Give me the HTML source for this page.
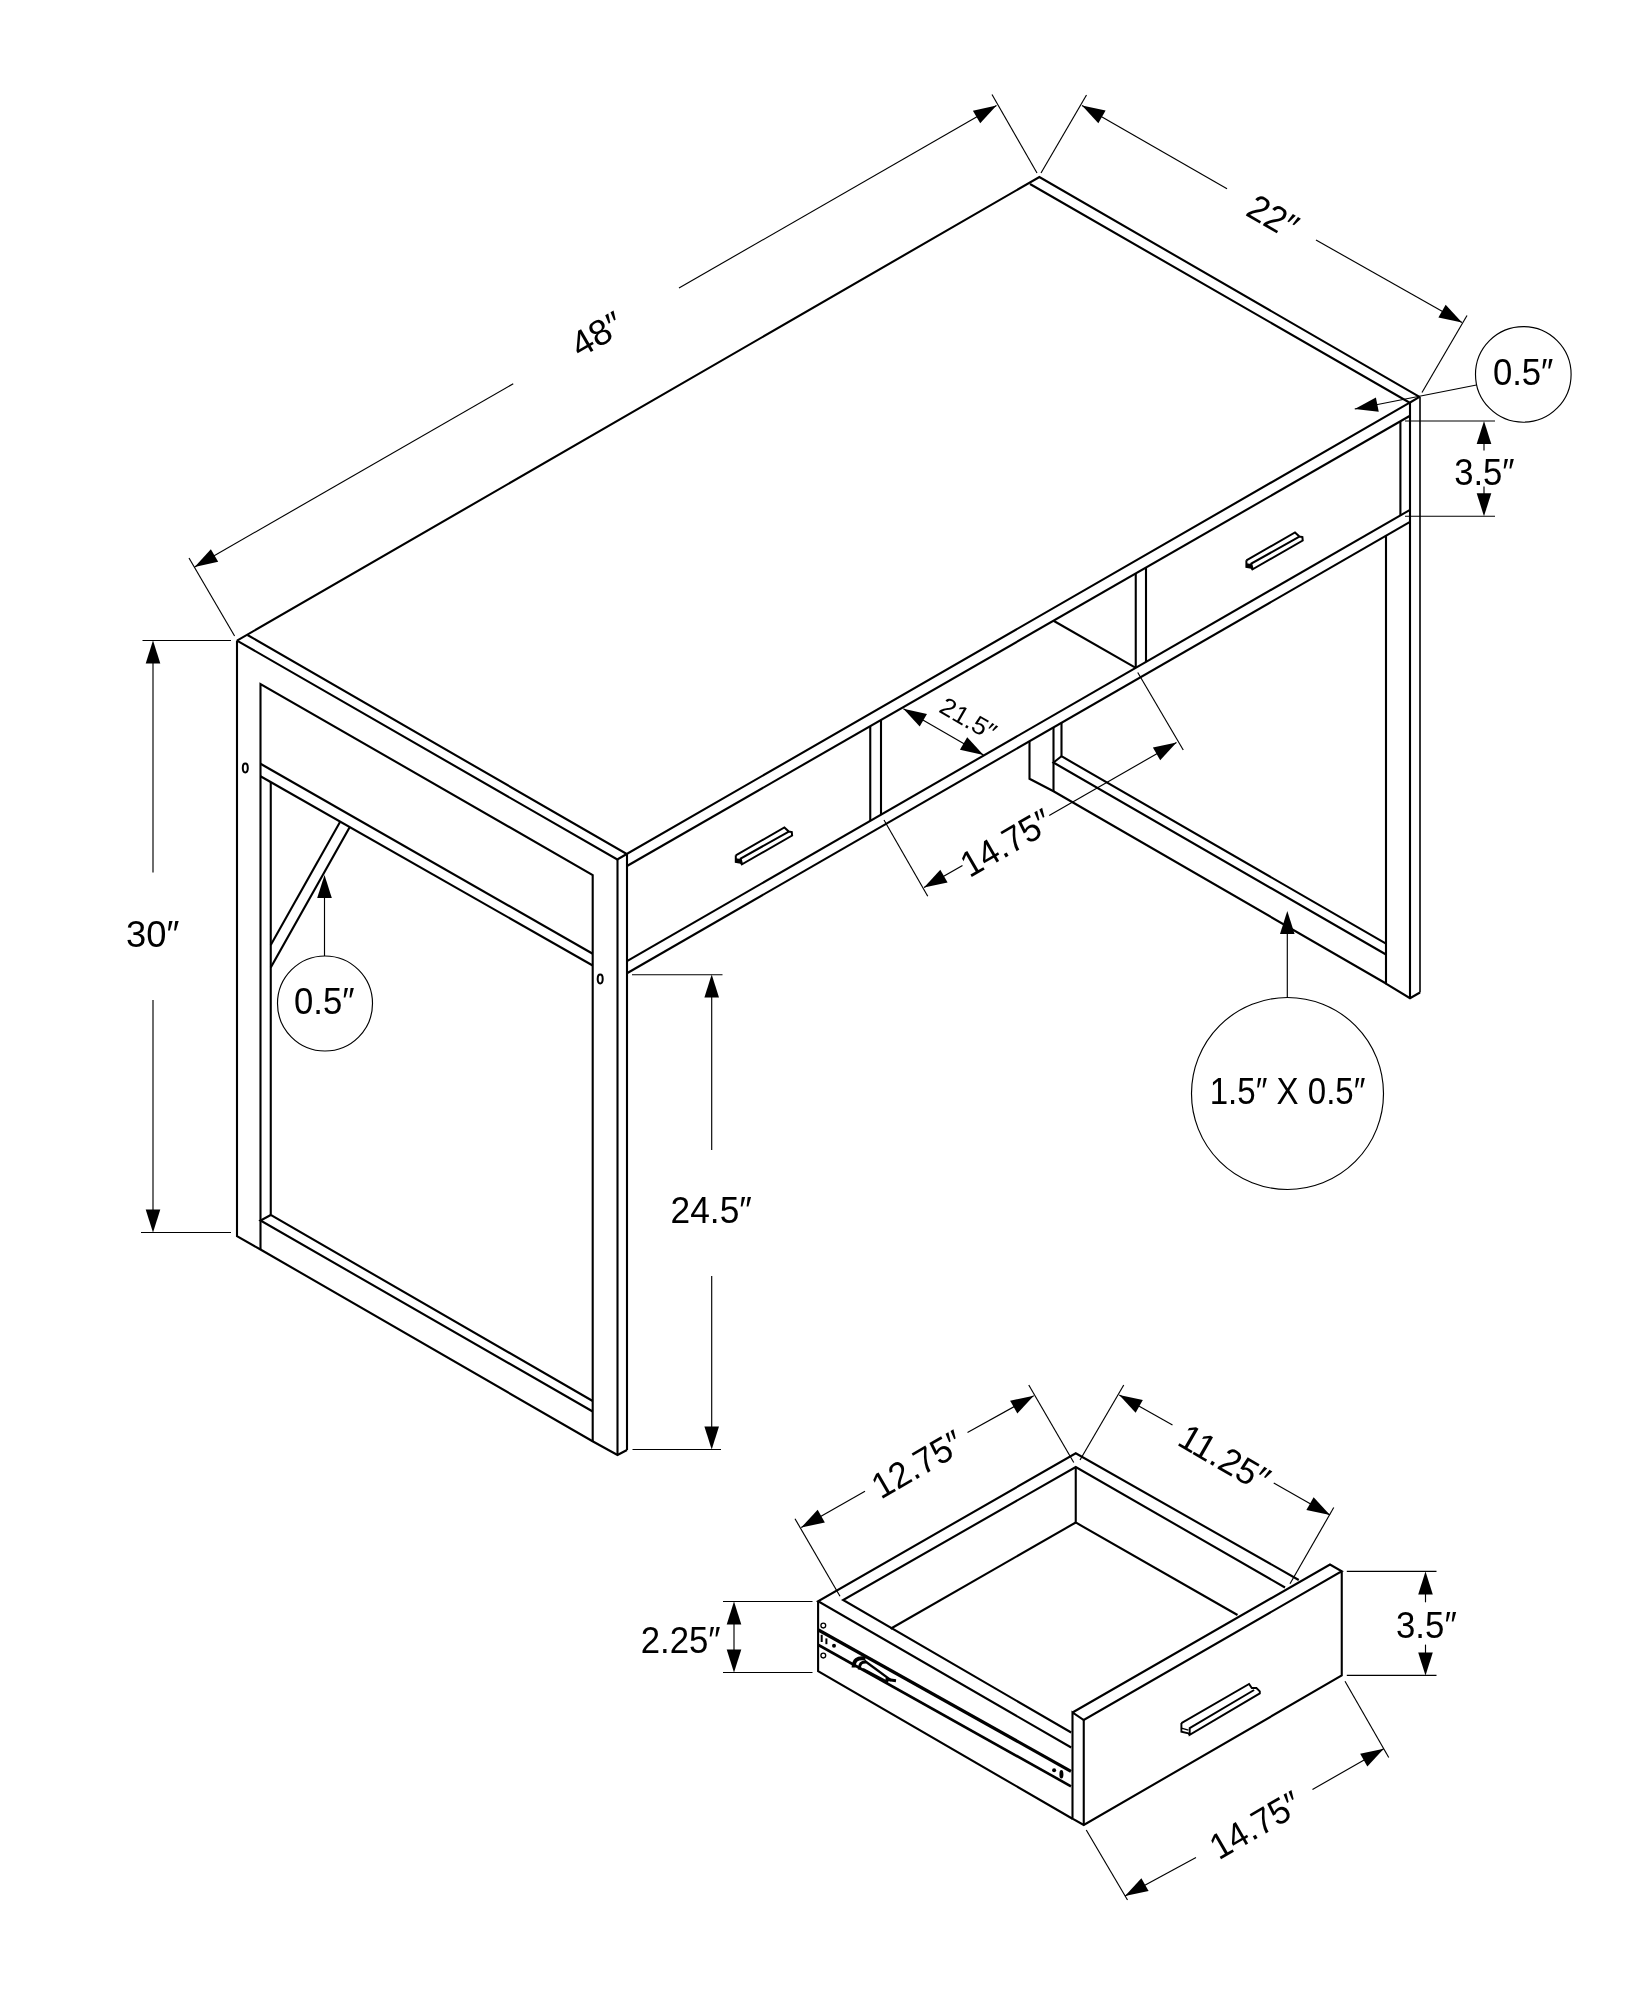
<!DOCTYPE html>
<html><head><meta charset="utf-8"><title>Desk dimensions</title>
<style>
html,body{margin:0;padding:0;background:#fff}
svg{display:block;will-change:transform}
path,circle,ellipse{fill:none;stroke:#000;stroke-linecap:butt;stroke-linejoin:miter}
.ah{fill:#000;stroke:none}
text{font-family:"Liberation Sans",sans-serif;fill:#000}
</style></head><body>
<svg width="1648" height="2000" viewBox="0 0 1648 2000">
<rect width="1648" height="2000" fill="#fff"/>
<path d="M237.00,640.60 L1039.40,177.00 L1419.50,396.80" stroke-width="2.1" />
<path d="M1030.00,184.00 L1409.70,402.70 L1419.50,396.80" stroke-width="2.1" />
<path d="M247.50,635.00 L626.75,854.00 L1409.70,402.70" stroke-width="2.1" />
<path d="M237.00,640.60 L617.30,859.50 L626.75,854.00" stroke-width="2.1" />
<path d="M627.00,866.00 L1410.00,415.78" stroke-width="2.1" />
<path d="M627.00,961.12 L1410.00,509.79" stroke-width="2.1" />
<path d="M627.00,973.22 L1410.00,521.89" stroke-width="2.1" />
<path d="M870.25,726.13 L870.25,820.91" stroke-width="2.1" />
<path d="M881.00,719.95 L881.00,814.71" stroke-width="2.1" />
<path d="M1135.75,573.47 L1135.75,667.87" stroke-width="2.1" />
<path d="M1146.00,567.58 L1146.00,661.96" stroke-width="2.1" />
<path d="M1053.50,620.76 L1135.75,667.87" stroke-width="2.1" />
<path d="M1420.00,396.80 L1420.00,992.50" stroke-width="1.6" />
<path d="M1410.00,402.70 L1410.00,998.25" stroke-width="2.1" />
<path d="M1400.40,421.79 L1400.40,515.33" stroke-width="2.1" />
<path d="M1386.00,535.73 L1386.00,983.75 L1410.00,998.25 L1420.00,992.50" stroke-width="2.1" />
<path d="M237.00,640.60 L237.00,1236.25 L260.50,1249.50 L593.00,1441.50 L617.50,1455.00 L627.00,1450.00" stroke-width="2.1" />
<path d="M617.50,859.50 L617.50,1455.00" stroke-width="2.1" />
<path d="M627.00,854.00 L627.00,1450.00" stroke-width="2.1" />
<path d="M260.50,1249.50 L260.50,684.00 L592.70,875.00 L592.70,1441.50" stroke-width="2.1" />
<path d="M260.50,763.75 L592.70,953.75" stroke-width="2.1" />
<path d="M260.50,776.25 L592.70,965.50" stroke-width="2.1" />
<path d="M270.75,782.00 L270.75,1215.00 L592.70,1401.00" stroke-width="2.1" />
<path d="M270.75,1215.00 L260.50,1220.50 L592.70,1411.50" stroke-width="2.1" />
<path d="M340.00,822.00 L270.75,945.00" stroke-width="2.1" />
<path d="M349.50,827.50 L270.75,967.50" stroke-width="2.1" />
<ellipse cx="245.3" cy="768" rx="2.5" ry="4.4" stroke-width="2"/>
<ellipse cx="600.2" cy="979" rx="2.5" ry="4.4" stroke-width="2"/>
<path d="M1029.50,741.21 L1029.50,778.75 L1053.50,791.25 L1386.00,983.50" stroke-width="2.1" />
<path d="M1053.50,727.38 L1053.50,791.25" stroke-width="2.1" />
<path d="M1061.50,722.77 L1061.50,756.25 L1386.00,943.60" stroke-width="2.1" />
<path d="M1061.50,756.25 L1053.50,762.50 L1386.00,954.50" stroke-width="2.1" />
<path d="M735.80,855.30 L784.40,827.50 L788.80,831.60 L791.80,832.10 L792.10,835.50 L742.00,864.30 L740.70,858.60 L788.80,831.60" stroke-width="2.0" />
<path d="M735.80,855.30 L735.80,861.90 L740.70,862.80 L742.00,864.30" stroke-width="2.0" />
<polygon class="ah" points="735.80,858.30 740.70,858.90 742.00,864.30 740.70,862.80 735.80,861.90"/>
<path d="M1246.40,560.30 L1295.00,532.50 L1299.40,536.60 L1302.40,537.10 L1302.70,540.50 L1252.60,569.30 L1251.30,563.60 L1299.40,536.60" stroke-width="2.0" />
<path d="M1246.40,560.30 L1246.40,566.90 L1251.30,567.80 L1252.60,569.30" stroke-width="2.0" />
<polygon class="ah" points="1246.40,563.30 1251.30,563.90 1252.60,569.30 1251.30,567.80 1246.40,566.90"/>
<path d="M189.00,558.00 L234.60,636.00" stroke-width="1.15" />
<path d="M992.00,94.50 L1037.00,173.00" stroke-width="1.15" />
<path d="M194.60,567.00 L513.25,383.75" stroke-width="1.15" />
<path d="M679.00,288.00 L996.50,105.50" stroke-width="1.15" />
<polygon class="ah" points="194.60,567.00 210.89,549.20 218.18,561.85"/>
<polygon class="ah" points="996.50,105.50 980.21,123.30 972.92,110.65"/>
<text transform="translate(597.00,334.30) rotate(-30)" font-size="36" text-anchor="middle" x="-0.08" y="12.38" textLength="53.93" lengthAdjust="spacingAndGlyphs">48″</text>
<path d="M1086.50,95.00 L1041.00,173.00" stroke-width="1.15" />
<path d="M1467.00,315.50 L1422.00,392.50" stroke-width="1.15" />
<path d="M1082.00,105.50 L1227.00,188.75" stroke-width="1.15" />
<path d="M1316.00,240.00 L1462.00,322.50" stroke-width="1.15" />
<polygon class="ah" points="1082.00,105.50 1105.59,110.57 1098.35,123.24"/>
<polygon class="ah" points="1462.00,322.50 1438.41,317.43 1445.65,304.76"/>
<text transform="translate(1273.30,217.00) rotate(30)" font-size="36" text-anchor="middle" x="-0.56" y="12.38" textLength="51.94" lengthAdjust="spacingAndGlyphs">22″</text>
<circle cx="1523.3" cy="374.4" r="47.8" stroke-width="1.15"/>
<path d="M1476.50,385.00 L1354.75,409.00" stroke-width="1.15" />
<polygon class="ah" points="1354.75,409.00 1375.90,397.39 1378.73,411.71"/>
<text transform="translate(1523.50,373.00) rotate(0)" font-size="36" text-anchor="middle" x="-0.36" y="12.38" textLength="60.50" lengthAdjust="spacingAndGlyphs">0.5″</text>
<path d="M1405.00,421.00 L1495.00,421.00" stroke-width="1.15" />
<path d="M1405.00,516.20 L1495.00,516.20" stroke-width="1.15" />
<polygon class="ah" points="1484.00,421.00 1491.30,444.00 1476.70,444.00"/>
<polygon class="ah" points="1484.00,516.20 1476.70,493.20 1491.30,493.20"/>
<path d="M1484.00,440.00 L1484.00,450.50" stroke-width="1.15" />
<path d="M1484.00,486.50 L1484.00,496.00" stroke-width="1.15" />
<text transform="translate(1484.75,472.75) rotate(0)" font-size="36" text-anchor="middle" x="-0.34" y="12.38" textLength="60.46" lengthAdjust="spacingAndGlyphs">3.5″</text>
<path d="M142.50,640.50 L231.00,640.50" stroke-width="1.15" />
<path d="M141.00,1232.50 L231.00,1232.50" stroke-width="1.15" />
<path d="M153.00,645.00 L153.00,872.50" stroke-width="1.15" />
<path d="M153.00,1000.00 L153.00,1228.00" stroke-width="1.15" />
<polygon class="ah" points="153.00,640.50 160.30,663.50 145.70,663.50"/>
<polygon class="ah" points="153.00,1232.50 145.70,1209.50 160.30,1209.50"/>
<text transform="translate(153.10,934.80) rotate(0)" font-size="36" text-anchor="middle" x="-0.36" y="12.38" textLength="53.31" lengthAdjust="spacingAndGlyphs">30″</text>
<circle cx="325" cy="1003.5" r="47.5" stroke-width="1.15"/>
<path d="M324.50,880.00 L324.50,956.00" stroke-width="1.15" />
<polygon class="ah" points="324.50,875.00 331.80,898.00 317.20,898.00"/>
<text transform="translate(324.60,1001.50) rotate(0)" font-size="36" text-anchor="middle" x="-0.36" y="12.38" textLength="60.50" lengthAdjust="spacingAndGlyphs">0.5″</text>
<path d="M632.00,974.70 L722.50,974.70" stroke-width="1.15" />
<path d="M632.50,1449.50 L721.00,1449.50" stroke-width="1.15" />
<path d="M711.70,980.00 L711.70,1150.00" stroke-width="1.15" />
<path d="M711.70,1276.00 L711.70,1445.00" stroke-width="1.15" />
<polygon class="ah" points="711.70,974.50 719.00,997.50 704.40,997.50"/>
<polygon class="ah" points="711.70,1449.50 704.40,1426.50 719.00,1426.50"/>
<text transform="translate(711.75,1211.00) rotate(0)" font-size="36" text-anchor="middle" x="-0.56" y="12.38" textLength="81.18" lengthAdjust="spacingAndGlyphs">24.5″</text>
<circle cx="1287.5" cy="1093.5" r="96" stroke-width="1.15"/>
<path d="M1287.30,915.00 L1287.30,997.50" stroke-width="1.15" />
<polygon class="ah" points="1287.30,911.00 1294.60,934.00 1280.00,934.00"/>
<text transform="translate(1288.50,1091.50) rotate(0)" font-size="36" text-anchor="middle" x="-0.95" y="12.38" textLength="155.63" lengthAdjust="spacingAndGlyphs">1.5″ X 0.5″</text>
<path d="M903.40,708.80 L983.50,755.00" stroke-width="1.15" />
<polygon class="ah" points="903.40,708.80 926.97,713.97 919.68,726.62"/>
<polygon class="ah" points="983.50,755.00 959.93,749.83 967.22,737.18"/>
<text transform="translate(968.60,719.20) rotate(30)" font-size="25" text-anchor="middle" x="-0.42" y="8.60" textLength="60.41" lengthAdjust="spacingAndGlyphs">21.5″</text>
<path d="M884.00,820.00 L927.75,896.25" stroke-width="1.15" />
<path d="M1137.75,672.50 L1183.25,750.00" stroke-width="1.15" />
<path d="M924.00,887.50 L962.50,865.40" stroke-width="1.15" />
<path d="M1049.20,815.40 L1176.50,742.50" stroke-width="1.15" />
<polygon class="ah" points="924.00,887.50 940.31,869.72 947.58,882.38"/>
<polygon class="ah" points="1176.50,742.50 1160.19,760.28 1152.92,747.62"/>
<text transform="translate(1007.00,842.30) rotate(-30)" font-size="36" text-anchor="middle" x="-1.00" y="12.38" textLength="98.78" lengthAdjust="spacingAndGlyphs">14.75″</text>
<path d="M1071.20,1747.50 L818.10,1601.25 L1075.75,1453.25 L1298.75,1580.00" stroke-width="2.1" />
<path d="M1071.20,1732.50 L843.10,1600.00 L1075.75,1467.00 L1285.00,1587.50" stroke-width="2.1" />
<path d="M818.10,1601.25 L818.10,1671.25 L1072.50,1818.75" stroke-width="2.1" />
<path d="M1075.75,1467.00 L1075.75,1522.50 L1237.50,1615.00" stroke-width="2.1" />
<path d="M890.60,1628.75 L1075.75,1522.50" stroke-width="2.1" />
<path d="M1072.50,1712.50 L1330.00,1564.50 L1341.75,1571.25 L1083.75,1720.00 L1072.50,1712.50 L1072.50,1818.75 L1083.75,1825.00 L1341.75,1675.50 L1341.75,1571.25" stroke-width="2.1" />
<path d="M1083.75,1720.00 L1083.75,1825.00" stroke-width="2.1" />
<path d="M818.50,1630.00 L1071.00,1771.30" stroke-width="3.2" />
<path d="M818.50,1645.00 L1071.00,1786.30" stroke-width="2.6" />
<circle cx="823.3" cy="1625.6" r="2.4" stroke-width="1.3"/>
<circle cx="823.3" cy="1655.6" r="2.4" stroke-width="1.3"/>
<path d="M821.70,1634.80 L821.70,1642.00" stroke-width="2" />
<path d="M826.40,1638.40 L826.40,1644.20" stroke-width="2" />
<circle class="ah" cx="834" cy="1645.7" r="2"/>
<circle class="ah" cx="1054.1" cy="1770.3" r="2"/>
<ellipse class="ah" cx="1061.4" cy="1774.3" rx="2" ry="4.3"/>
<path d="M853.6,1667.5 C853.8,1660 857,1657.3 865.5,1658.6" stroke-width="4"/>
<path d="M859.3,1669.5 C859.3,1664 861.3,1661.8 866,1662" stroke-width="3"/>
<path d="M864.50,1660.80 L891.50,1680.60" stroke-width="2.4" />
<path d="M863.00,1669.00 L888.00,1682.30" stroke-width="2.2" />
<path d="M885.50,1679.30 L896.00,1680.80" stroke-width="3" />
<path d="M1181.40,1723.10 L1249.10,1684.00 L1251.80,1688.00 L1256.40,1688.00 L1259.80,1691.30 L1259.80,1693.40 L1189.70,1734.80 L1189.70,1728.10 L1254.10,1690.00" stroke-width="1.9" />
<path d="M1181.40,1723.10 L1181.40,1731.70 L1188.40,1733.40 L1189.70,1734.80" stroke-width="1.9" />
<path d="M1181.40,1728.10 L1188.40,1730.10" stroke-width="1.5" />
<path d="M795.00,1518.75 L840.00,1596.25" stroke-width="1.15" />
<path d="M1028.75,1385.00 L1073.75,1462.50" stroke-width="1.15" />
<path d="M801.25,1527.50 L865.00,1491.25" stroke-width="1.15" />
<path d="M967.50,1432.50 L1033.75,1395.75" stroke-width="1.15" />
<polygon class="ah" points="801.25,1527.50 817.66,1509.81 824.86,1522.51"/>
<polygon class="ah" points="1033.75,1395.75 1017.34,1413.44 1010.14,1400.74"/>
<text transform="translate(918.30,1463.80) rotate(-30)" font-size="36" text-anchor="middle" x="-1.00" y="12.38" textLength="98.78" lengthAdjust="spacingAndGlyphs">12.75″</text>
<path d="M1123.75,1385.00 L1080.00,1460.00" stroke-width="1.15" />
<path d="M1333.75,1507.50 L1290.00,1583.75" stroke-width="1.15" />
<path d="M1119.25,1395.00 L1172.50,1425.00" stroke-width="1.15" />
<path d="M1273.75,1483.00 L1330.00,1515.00" stroke-width="1.15" />
<polygon class="ah" points="1119.25,1395.00 1142.85,1400.04 1135.62,1412.72"/>
<polygon class="ah" points="1330.00,1515.00 1306.40,1509.96 1313.63,1497.28"/>
<text transform="translate(1225.20,1458.50) rotate(30)" font-size="36" text-anchor="middle" x="-0.99" y="12.38" textLength="98.16" lengthAdjust="spacingAndGlyphs">11.25″</text>
<path d="M723.00,1601.50 L812.50,1601.50" stroke-width="1.15" />
<path d="M723.00,1672.50 L812.50,1672.50" stroke-width="1.15" />
<path d="M734.00,1610.00 L734.00,1665.00" stroke-width="1.15" />
<polygon class="ah" points="734.00,1601.50 741.30,1624.50 726.70,1624.50"/>
<polygon class="ah" points="734.00,1672.50 726.70,1649.50 741.30,1649.50"/>
<text transform="translate(681.25,1641.00) rotate(0)" font-size="36" text-anchor="middle" x="-0.55" y="12.38" textLength="79.89" lengthAdjust="spacingAndGlyphs">2.25″</text>
<path d="M1346.80,1571.40 L1436.50,1571.40" stroke-width="1.15" />
<path d="M1346.80,1675.40 L1436.50,1675.40" stroke-width="1.15" />
<path d="M1425.50,1590.00 L1425.50,1602.30" stroke-width="1.15" />
<path d="M1425.50,1644.60 L1425.50,1656.00" stroke-width="1.15" />
<polygon class="ah" points="1425.50,1571.40 1432.80,1594.40 1418.20,1594.40"/>
<polygon class="ah" points="1425.50,1675.40 1418.20,1652.40 1432.80,1652.40"/>
<text transform="translate(1426.70,1625.75) rotate(0)" font-size="36" text-anchor="middle" x="-0.34" y="12.38" textLength="60.67" lengthAdjust="spacingAndGlyphs">3.5″</text>
<path d="M1345.00,1681.25 L1388.75,1757.50" stroke-width="1.15" />
<path d="M1086.25,1830.00 L1127.50,1900.00" stroke-width="1.15" />
<path d="M1125.00,1896.00 L1196.00,1857.50" stroke-width="1.15" />
<path d="M1312.50,1789.50 L1383.75,1748.75" stroke-width="1.15" />
<polygon class="ah" points="1125.00,1896.00 1141.38,1878.28 1148.60,1890.97"/>
<polygon class="ah" points="1383.75,1748.75 1367.37,1766.47 1360.15,1753.78"/>
<text transform="translate(1256.20,1824.60) rotate(-30)" font-size="36" text-anchor="middle" x="-1.00" y="12.38" textLength="98.98" lengthAdjust="spacingAndGlyphs">14.75″</text>
</svg></body></html>
